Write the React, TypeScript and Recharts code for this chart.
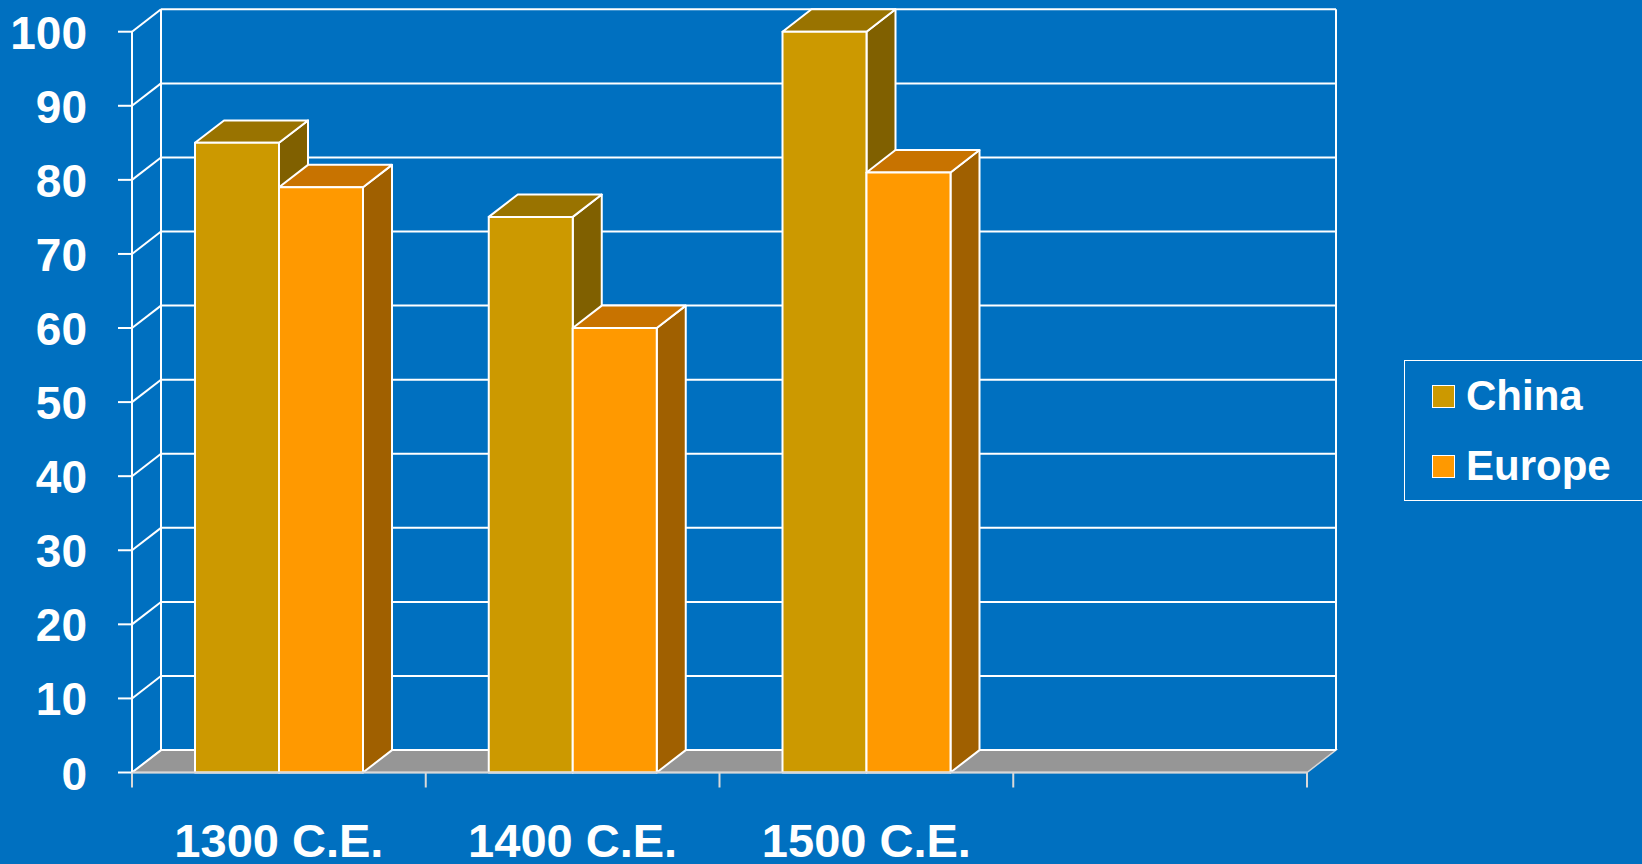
import React from "react";
import { BarChart, Bar, XAxis, YAxis, CartesianGrid } from "recharts";

const categories = ["1300 C.E.", "1400 C.E.", "1500 C.E.", ""];
const chinaValues = [85, 75, 100, null];
const europeValues = [79, 60, 81, null];
const yTicks = [0, 10, 20, 30, 40, 50, 60, 70, 80, 90, 100];
const seriesNames = ["China", "Europe"];

const data = categories.map((name, i) => ({
    name,
    china: chinaValues[i],
    europe: europeValues[i],
}));

const W = 1642;
const H = 864;
const Y_AXIS_W = 132;
const X_AXIS_H = 91.5;
const PLOT_BOTTOM = H - X_AXIS_H;
// 3d depth offset
const DX = 29;
const DY = -22.4;

const BG = "#0070C0";
const FONT = "'Liberation Sans', Arial, sans-serif";

const COLORS = {
    china: { front: "#CC9900", top: "#997300", side: "#806000" },
    europe: { front: "#FF9900", top: "#C87300", side: "#A06000" },
};

function make3dBar(c: { front: string; top: string; side: string }) {
    return (props: any) => {
        const { x, y, width, height } = props;
        if (height == null || height <= 0) return <g />;
        const stroke = { stroke: "#ffffff", strokeWidth: 2, strokeLinejoin: "round" as const };
        const top = `${x},${y} ${x + width},${y} ${x + width + DX},${y + DY} ${x + DX},${y + DY}`;
        const side = `${x + width},${y} ${x + width + DX},${y + DY} ${x + width + DX},${y + height + DY} ${x + width},${y + height}`;
        return (
            <g>
                <polygon points={side} fill={c.side} {...stroke} />
                <polygon points={top} fill={c.top} {...stroke} />
                <rect x={x} y={y} width={width} height={height} fill={c.front} {...stroke} />
            </g>
        );
    };
}

const gridStroke = { stroke: "#ffffff", strokeWidth: 2 };

function HorizontalLine(props: any) {
    const { x1, x2, y1 } = props;
    const isFloor = Math.abs(y1 - PLOT_BOTTOM) < 1;
    return (
        <g key={props.key}>
            {isFloor && (
                <polygon
                    points={`${x1},${y1} ${x2},${y1} ${x2 + DX},${y1 + DY} ${x1 + DX},${y1 + DY}`}
                    fill="#969696"
                    stroke="#d8d8d8"
                    strokeWidth={1.5}
                />
            )}
            <line x1={x1} y1={y1} x2={x1 + DX} y2={y1 + DY} {...gridStroke} />
            <line x1={x1 + DX} y1={y1 + DY} x2={x2 + DX} y2={y1 + DY} {...gridStroke} />
        </g>
    );
}

function VerticalLine(props: any) {
    const { x1, y1, y2 } = props;
    return <line key={props.key} x1={x1 + DX} y1={y1 + DY} x2={x1 + DX} y2={y2 + DY} {...gridStroke} />;
}

function YTick(props: any) {
    const { x, y, payload } = props;
    return (
        <text
            x={x}
            y={y}
            dy={17}
            textAnchor="end"
            fill="#ffffff"
            fontSize={46}
            fontWeight="bold"
            fontFamily={FONT}
        >
            {payload.value}
        </text>
    );
}

function XTick(props: any) {
    const { x, y, payload, index } = props;
    const half = payload.offset || 0;
    const tick = { stroke: "#d8d8d8", strokeWidth: 2 };
    return (
        <g>
            <line x1={x - half} y1={y} x2={x - half} y2={y + 15} {...tick} />
            {index === categories.length - 1 && <line x1={x + half} y1={y} x2={x + half} y2={y + 15} {...tick} />}
            <text
                x={x}
                y={y + 84}
                textAnchor="middle"
                fill="#ffffff"
                fontSize={47}
                fontWeight="bold"
                fontFamily={FONT}
            >
                {payload.value}
            </text>
        </g>
    );
}

function LegendBox() {
    const swatches = [COLORS.china.front, COLORS.europe.front];
    return (
        <div
            style={{
                position: "absolute",
                left: 1404,
                top: 360,
                width: 240,
                height: 141,
                border: "1.5px solid #ffffff",
                boxSizing: "border-box",
                fontFamily: FONT,
            }}
        >
            {seriesNames.map((label, i) => (
                <div key={label} style={{ display: "flex", alignItems: "center", height: 70, paddingLeft: 27 }}>
                    <div
                        style={{
                            width: 23,
                            height: 23,
                            background: swatches[i],
                            border: "1px solid #ffffff",
                            boxSizing: "border-box",
                            marginRight: 11,
                        }}
                    />
                    <span style={{ color: "#fff", fontSize: 42, fontWeight: "bold", lineHeight: "42px" }}>{label}</span>
                </div>
            ))}
        </div>
    );
}

export default function App() {
    return (
        <div style={{ position: "fixed", left: 0, top: 0, width: W, height: H, background: BG, overflow: "hidden" }}>
            <BarChart
                width={W}
                height={H}
                data={data}
                margin={{ top: 31.7, right: 335, bottom: 0, left: 0 }}
                barGap={0}
            >
                <CartesianGrid
                    horizontal={HorizontalLine}
                    vertical={VerticalLine}
                    verticalCoordinatesGenerator={({ offset }: any) => [offset.left, offset.left + offset.width]}
                />
                <XAxis
                    dataKey="name"
                    interval={0}
                    height={X_AXIS_H}
                    axisLine={{ stroke: "#d8d8d8", strokeWidth: 2 }}
                    tickLine={false}
                    tickSize={0}
                    tickMargin={0}
                    tick={XTick}
                />
                <YAxis
                    width={Y_AXIS_W}
                    domain={[0, 100]}
                    ticks={yTicks}
                    interval={0}
                    axisLine={{ stroke: "#ffffff", strokeWidth: 2 }}
                    tickLine={{ stroke: "#ffffff", strokeWidth: 2 }}
                    tickSize={14}
                    tickMargin={31}
                    tick={YTick}
                />
                <Bar dataKey="china" name={seriesNames[0]} barSize={84} shape={make3dBar(COLORS.china)} isAnimationActive={false} />
                <Bar dataKey="europe" name={seriesNames[1]} barSize={84} shape={make3dBar(COLORS.europe)} isAnimationActive={false} />
            </BarChart>
            <LegendBox />
        </div>
    );
}
